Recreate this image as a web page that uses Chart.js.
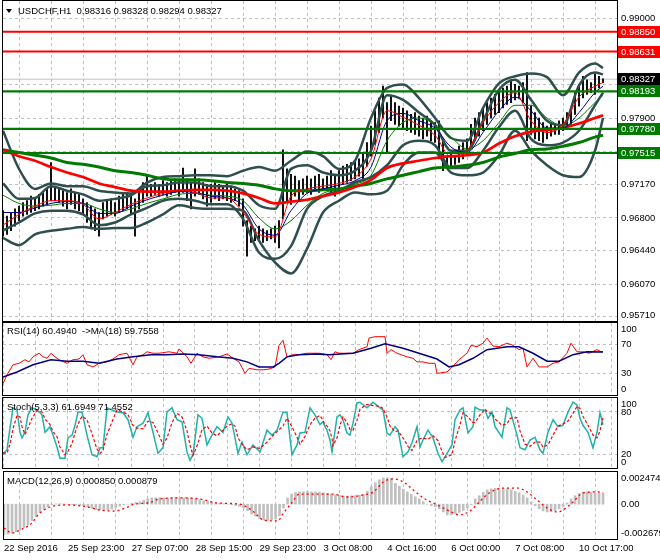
<!DOCTYPE html>
<html>
<head>
<meta charset="utf-8">
<script src="https://cdn.jsdelivr.net/npm/chart.js@4.4.1/dist/chart.umd.min.js"></script>
<style>
  body { margin: 0; background: #fff; }
  #wrap { position: relative; width: 660px; height: 560px; overflow: hidden; font-family: "Liberation Sans", Arial, sans-serif; }
  canvas { position: absolute; left: 0; }
  .cap { position: absolute; font-size: 9.5px; line-height: 11px; color: #000; white-space: pre; z-index: 2; }
  .tri { position: absolute; left: 6px; top: 9px; width: 0; height: 0; border-left: 3.5px solid transparent; border-right: 3.5px solid transparent; border-top: 4px solid #000; z-index: 2; }
</style>
</head>
<body>
<div id="wrap">
  <canvas id="main" width="660" height="322" style="top:0"></canvas>
  <canvas id="rsi" width="660" height="75" style="top:322px"></canvas>
  <canvas id="stoch" width="660" height="73" style="top:397px"></canvas>
  <canvas id="macd" width="660" height="89" style="top:471px"></canvas>
  <div class="tri"></div>
  <div class="cap" style="left:18px;top:5px">USDCHF,H1  0.98316 0.98328 0.98294 0.98327</div>
  <div class="cap" style="left:7px;top:325px">RSI(14) 60.4940  -&gt;MA(18) 59.7558</div>
  <div class="cap" style="left:7px;top:401px">Stoch(5,3,3) 61.6949 71.4552</div>
  <div class="cap" style="left:7px;top:475px">MACD(12,26,9) 0.000850 0.000879</div>
</div>
<script>
// time axis in H1 bars (0 = first bar on screen)
const xLabels = ['22 Sep 2016', '25 Sep 23:00', '27 Sep 07:00', '28 Sep 15:00', '29 Sep 23:00',
  '3 Oct 08:00', '4 Oct 16:00', '6 Oct 00:00', '7 Oct 08:00', '10 Oct 17:00'];
const labelEvery = 32;
const gridEvery = 16;
const lastBar = 307;

// price scale
const mainTicks = [0.99000, 0.98630, 0.98270, 0.97900, 0.97530, 0.97170, 0.96800, 0.96440, 0.96070, 0.95710];
const redLevels = [0.98850, 0.98631];
const greenLevels = [0.98193, 0.97780, 0.97515];
const bid = 0.98327;

// candles every 2nd bar: highs / lows
const candleHigh = [
  0.9688, 0.9682, 0.9686, 0.9690, 0.9693, 0.9697, 0.9699, 0.9704, 0.9701, 0.9706,
  0.9708, 0.9712, 0.9741, 0.9715, 0.9712, 0.9710, 0.9708, 0.9712, 0.9708, 0.9706,
  0.9701, 0.9697, 0.9693, 0.9690, 0.9686, 0.9697, 0.9699, 0.9701, 0.9697, 0.9704,
  0.9706, 0.9708, 0.9704, 0.9701, 0.9712, 0.9719, 0.9726, 0.9717, 0.9719, 0.9717,
  0.9721, 0.9719, 0.9721, 0.9723, 0.9721, 0.9735, 0.9723, 0.9719, 0.9734, 0.9723,
  0.9719, 0.9717, 0.9717, 0.9719, 0.9717, 0.9715, 0.9717, 0.9715, 0.9712, 0.9710,
  0.9701, 0.9677, 0.9671, 0.9668, 0.9671, 0.9668, 0.9666, 0.9668, 0.9671, 0.9677,
  0.9755, 0.9734, 0.9728, 0.9726, 0.9721, 0.9723, 0.9726, 0.9723, 0.9726, 0.9728,
  0.9723, 0.9726, 0.9732, 0.9728, 0.9732, 0.9737, 0.9739, 0.9741, 0.9743, 0.9745,
  0.9750, 0.9763, 0.9781, 0.9798, 0.9812, 0.9825, 0.9807, 0.9814, 0.9807, 0.9803,
  0.9801, 0.9798, 0.9794, 0.9796, 0.9792, 0.9790, 0.9792, 0.9787, 0.9785, 0.9787,
  0.9765, 0.9748, 0.9750, 0.9748, 0.9759, 0.9763, 0.9767, 0.9783, 0.9790, 0.9796,
  0.9801, 0.9807, 0.9812, 0.9816, 0.9821, 0.9823, 0.9825, 0.9832, 0.9827, 0.9825,
  0.9829, 0.9840, 0.9803, 0.9796, 0.9790, 0.9785, 0.9781, 0.9785, 0.9783, 0.9787,
  0.9790, 0.9796, 0.9801, 0.9818, 0.9827, 0.9836, 0.9832, 0.9829, 0.9838, 0.9836,
  0.9833];
const candleLow = [
  0.9660, 0.9662, 0.9666, 0.9671, 0.9677, 0.9682, 0.9684, 0.9686, 0.9688, 0.9690,
  0.9693, 0.9695, 0.9699, 0.9699, 0.9697, 0.9693, 0.9690, 0.9695, 0.9690, 0.9688,
  0.9684, 0.9675, 0.9668, 0.9666, 0.9660, 0.9679, 0.9682, 0.9684, 0.9682, 0.9686,
  0.9688, 0.9690, 0.9684, 0.9660, 0.9690, 0.9697, 0.9704, 0.9704, 0.9706, 0.9704,
  0.9706, 0.9704, 0.9706, 0.9708, 0.9704, 0.9708, 0.9699, 0.9690, 0.9704, 0.9706,
  0.9701, 0.9693, 0.9697, 0.9701, 0.9699, 0.9701, 0.9699, 0.9697, 0.9699, 0.9693,
  0.9671, 0.9638, 0.9653, 0.9655, 0.9657, 0.9653, 0.9655, 0.9657, 0.9653, 0.9647,
  0.9679, 0.9697, 0.9695, 0.9704, 0.9699, 0.9706, 0.9708, 0.9706, 0.9710, 0.9708,
  0.9710, 0.9712, 0.9708, 0.9704, 0.9712, 0.9717, 0.9719, 0.9721, 0.9723, 0.9726,
  0.9721, 0.9737, 0.9748, 0.9761, 0.9774, 0.9790, 0.9752, 0.9787, 0.9783, 0.9781,
  0.9779, 0.9776, 0.9774, 0.9772, 0.9770, 0.9767, 0.9770, 0.9765, 0.9763, 0.9745,
  0.9732, 0.9737, 0.9737, 0.9739, 0.9741, 0.9745, 0.9750, 0.9759, 0.9765, 0.9770,
  0.9776, 0.9783, 0.9790, 0.9794, 0.9796, 0.9801, 0.9805, 0.9807, 0.9810, 0.9812,
  0.9807, 0.9765, 0.9772, 0.9767, 0.9765, 0.9763, 0.9767, 0.9770, 0.9772, 0.9772,
  0.9776, 0.9779, 0.9783, 0.9794, 0.9803, 0.9812, 0.9816, 0.9818, 0.9816, 0.9823,
  0.9829];

// indicator lines sampled every 8 bars
const lineBars = [0, 8, 16, 24, 32, 40, 48, 56, 64, 72, 80, 88, 96, 104, 112, 120, 128, 136, 144, 152,
  160, 168, 176, 184, 192, 200, 208, 216, 224, 232, 240, 248, 256, 264, 272, 280, 288, 296, 300];
const maRedSlow = [0.9755, 0.9748, 0.9743, 0.9736, 0.9730, 0.9725, 0.9718, 0.9714, 0.9710, 0.9709,
  0.9709, 0.9710, 0.9711, 0.9711, 0.9710, 0.9707, 0.9702, 0.9696, 0.9698, 0.9700,
  0.9704, 0.9708, 0.9714, 0.9722, 0.9735, 0.9740, 0.9743, 0.9746, 0.9748, 0.9749,
  0.9752, 0.9762, 0.9770, 0.9775, 0.9777, 0.9779, 0.9784, 0.9790, 0.9793];
const maGreenSlow = [0.9755, 0.9752, 0.9749, 0.9746, 0.9741, 0.9739, 0.9736, 0.9732, 0.9730, 0.9727,
  0.9723, 0.9722, 0.9722, 0.9721, 0.9719, 0.9718, 0.9716, 0.9712, 0.9710, 0.9710,
  0.9711, 0.9712, 0.9715, 0.9718, 0.9723, 0.9727, 0.9731, 0.9735, 0.9736, 0.9738,
  0.9741, 0.9747, 0.9751, 0.9755, 0.9756, 0.9759, 0.9763, 0.9769, 0.9771];
const maRedFast = [0.9672, 0.9684, 0.9693, 0.9699, 0.9699, 0.9695, 0.9679, 0.9686, 0.9695, 0.9702,
  0.9707, 0.9710, 0.9708, 0.9702, 0.9702, 0.9686, 0.9662, 0.9659, 0.9704, 0.9712,
  0.9715, 0.9718, 0.9725, 0.9745, 0.9798, 0.9791, 0.9782, 0.9771, 0.9747, 0.9754,
  0.9785, 0.9807, 0.9818, 0.9787, 0.9774, 0.9783, 0.9813, 0.9825, 0.9829];
const maBlue = [0.9686, 0.9686, 0.9691, 0.9696, 0.9698, 0.9696, 0.9685, 0.9685, 0.9693, 0.9700,
  0.9705, 0.9709, 0.9708, 0.9704, 0.9702, 0.9694, 0.9668, 0.9661, 0.9688, 0.9707,
  0.9712, 0.9716, 0.9721, 0.9736, 0.9787, 0.9795, 0.9787, 0.9779, 0.9758, 0.9752,
  0.9774, 0.9798, 0.9813, 0.9798, 0.9779, 0.9779, 0.9796, 0.9818, 0.9825];
const maGreenFast = [0.9705, 0.9696, 0.9693, 0.9694, 0.9696, 0.9696, 0.9690, 0.9686, 0.9690, 0.9696,
  0.9701, 0.9706, 0.9707, 0.9705, 0.9704, 0.9699, 0.9680, 0.9668, 0.9677, 0.9694,
  0.9707, 0.9712, 0.9717, 0.9727, 0.9765, 0.9785, 0.9790, 0.9783, 0.9769, 0.9756,
  0.9765, 0.9785, 0.9804, 0.9804, 0.9790, 0.9781, 0.9790, 0.9807, 0.9815];
const bandOuterUp = [0.9776, 0.9734, 0.9712, 0.9718, 0.9715, 0.9715, 0.9710, 0.9708, 0.9707, 0.9719,
  0.9725, 0.9726, 0.9727, 0.9727, 0.9726, 0.9732, 0.9736, 0.9732, 0.9743, 0.9753,
  0.9748, 0.9734, 0.9743, 0.9790, 0.9823, 0.9827, 0.9812, 0.9790, 0.9768, 0.9765,
  0.9801, 0.9828, 0.9836, 0.9839, 0.9835, 0.9815, 0.9840, 0.9850, 0.9845];
const bandInnerUp = [0.9718, 0.9701, 0.9702, 0.9715, 0.9710, 0.9706, 0.9699, 0.9701, 0.9705, 0.9715,
  0.9716, 0.9719, 0.9719, 0.9715, 0.9715, 0.9710, 0.9694, 0.9690, 0.9734, 0.9738,
  0.9730, 0.9727, 0.9732, 0.9754, 0.9815, 0.9810, 0.9796, 0.9782, 0.9754, 0.9754,
  0.9787, 0.9821, 0.9832, 0.9810, 0.9787, 0.9782, 0.9826, 0.9840, 0.9838];
const bandInnerLow = [0.9666, 0.9675, 0.9685, 0.9688, 0.9688, 0.9684, 0.9672, 0.9675, 0.9684, 0.9691,
  0.9699, 0.9701, 0.9699, 0.9695, 0.9695, 0.9679, 0.9642, 0.9635, 0.9649, 0.9690,
  0.9704, 0.9710, 0.9719, 0.9725, 0.9738, 0.9760, 0.9765, 0.9760, 0.9735, 0.9735,
  0.9754, 0.9780, 0.9798, 0.9767, 0.9760, 0.9763, 0.9776, 0.9804, 0.9818];
const bandOuterLow = [0.9658, 0.9650, 0.9662, 0.9666, 0.9668, 0.9670, 0.9668, 0.9669, 0.9669, 0.9675,
  0.9684, 0.9694, 0.9691, 0.9690, 0.9690, 0.9688, 0.9655, 0.9631, 0.9619, 0.9646,
  0.9686, 0.9699, 0.9708, 0.9706, 0.9710, 0.9738, 0.9752, 0.9752, 0.9730, 0.9727,
  0.9730, 0.9749, 0.9776, 0.9754, 0.9738, 0.9727, 0.9725, 0.9754, 0.9790];

// RSI(14) and its MA(18)
const rsiBars = [0, 2, 5, 8, 11, 13, 15, 18, 20, 22, 24, 26, 28, 32, 35, 38, 40, 42, 45, 48,
  52, 55, 58, 62, 65, 67, 70, 72, 75, 78, 83, 87, 88, 92, 94, 97, 100, 103, 108, 112,
  115, 118, 121, 123, 127, 130, 133, 136, 138, 140, 142, 145, 148, 152, 155, 158, 162, 164, 166, 168,
  172, 175, 178, 182, 183, 186, 188, 191, 192, 194, 197, 202, 205, 207, 210, 213, 216, 217, 222, 224,
  228, 232, 234, 237, 240, 242, 245, 248, 252, 255, 258, 260, 262, 265, 268, 272, 275, 278, 282, 284,
  287, 290, 293, 297, 299, 300];
const rsiValues = [16, 28, 42, 44, 49, 46, 53, 58, 53, 51, 58, 53, 49, 44, 49, 50, 56, 42, 39, 44,
  46, 50, 56, 58, 42, 53, 56, 60, 58, 58, 60, 58, 64, 53, 44, 58, 53, 51, 53, 57,
  51, 46, 30, 37, 35, 35, 36, 39, 69, 76, 53, 56, 56, 58, 58, 58, 56, 49, 60, 58,
  58, 58, 63, 67, 79, 81, 81, 81, 58, 63, 58, 53, 51, 46, 46, 44, 44, 30, 32, 37,
  49, 58, 69, 67, 72, 79, 68, 67, 72, 69, 63, 65, 39, 51, 39, 39, 44, 46, 58, 72,
  60, 60, 58, 63, 60, 60.494];
const rsiMaBars = [0, 7, 15, 24, 32, 40, 48, 57, 65, 74, 82, 90, 98, 107, 115, 122, 128, 135, 138, 142,
  148, 157, 163, 175, 184, 191, 200, 208, 217, 223, 228, 235, 242, 252, 258, 265, 272, 278, 285, 292, 300];
const rsiMaValues = [25, 32, 42, 49, 47, 47, 44, 50, 53, 56, 56, 57, 56, 53, 51, 46, 39, 39, 44, 53,
  56, 57, 56, 58, 65, 71, 65, 58, 50, 39, 42, 51, 63, 67, 67, 58, 47, 47, 56, 60, 59.756];

// Stochastic(5,3,3)
const stochBars = [0, 2, 3.5, 5, 7, 8.5, 9.5, 11, 12.5, 14.5, 17, 19.5, 21, 23.5, 25, 27, 28.5, 31, 32.5, 34.5,
  36, 37.5, 39.5, 42, 44.5, 47, 48.5, 50, 52, 54.5, 57, 60, 62.5, 65, 67, 70, 72.5, 75, 77.5, 80,
  82, 84.5, 87, 89.5, 92, 93.5, 95, 97.5, 99.5, 102, 104.5, 107, 110, 112.5, 114.5, 116, 117.5, 119.5, 122, 125,
  128.5, 132, 134.5, 137, 140, 142, 144.5, 147, 148.5, 151, 153.5, 156, 158.5, 160, 161, 162, 163.5, 164.5, 165, 167,
  168.5, 170, 172, 173.5, 175, 177, 178.5, 182, 185, 188.5, 190, 192, 193.5, 196, 197.5, 200, 202.5, 204.5, 207, 208.5,
  210, 212.5, 215, 217.5, 219.5, 221, 224.5, 226, 228.5, 230, 232.5, 235, 236, 238.5, 241, 242.5, 244.5, 246, 249.5, 252,
  253.5, 257, 258.5, 261, 263.5, 266, 268.5, 270, 272.5, 275, 277.5, 280, 282.5, 285, 287, 288.5, 290, 292.5, 295, 297,
  298.5, 300];
const stochK = [19, 26, 57, 86, 83, 51, 43, 51, 76, 86, 83, 76, 51, 59, 47, 30, 14, 14, 43, 47,
  61, 80, 80, 47, 19, 16, 29, 29, 86, 83, 80, 79, 69, 44, 59, 64, 79, 51, 21, 29,
  80, 86, 69, 66, 23, 11, 19, 76, 71, 33, 47, 59, 51, 73, 64, 43, 21, 37, 19, 33,
  23, 54, 47, 54, 80, 79, 19, 33, 50, 51, 86, 76, 62, 66, 59, 54, 40, 23, 33, 73,
  76, 69, 50, 47, 64, 93, 94, 86, 94, 86, 83, 50, 47, 59, 54, 16, 23, 36, 59, 30,
  40, 54, 43, 21, 9, 16, 33, 69, 83, 86, 50, 59, 87, 83, 83, 71, 80, 59, 44, 86,
  83, 47, 29, 26, 40, 44, 26, 21, 51, 69, 59, 61, 80, 94, 90, 71, 61, 51, 29, 51,
  79, 61.69];
const stochD = [22, 21, 34, 56, 75, 73, 59, 48, 57, 71, 82, 80, 70, 62, 52, 45, 30, 19, 24, 35,
  50, 63, 74, 69, 49, 27, 21, 25, 48, 66, 83, 80, 76, 61, 57, 56, 67, 65, 50, 34,
  43, 65, 78, 73, 53, 33, 18, 35, 55, 60, 50, 46, 54, 61, 63, 60, 43, 34, 26, 30,
  28, 37, 45, 52, 60, 71, 59, 44, 34, 45, 62, 71, 75, 68, 62, 60, 53, 42, 32, 43,
  61, 73, 65, 55, 54, 68, 84, 91, 89, 88, 85, 73, 60, 52, 53, 43, 31, 25, 39, 42,
  43, 41, 46, 39, 24, 15, 19, 39, 62, 79, 73, 65, 65, 76, 84, 79, 78, 70, 61, 63,
  71, 72, 53, 34, 31, 37, 37, 30, 33, 47, 60, 63, 67, 78, 88, 85, 74, 61, 47, 43,
  53, 71.46];

// MACD(12,26,9): histogram every 2nd bar, signal line
const macdHist = [
  -0.00237, -0.00230, -0.00222, -0.00212, -0.00200, -0.00182, -0.00160, -0.00125, -0.00095, -0.00065,
  -0.00040, -0.00022, -0.00005, 0.00002, 0.00003, 0.00002, 0.00000, -0.00003, -0.00006, -0.00010,
  -0.00014, -0.00022, -0.00032, -0.00042, -0.00046, -0.00046, -0.00045, -0.00038, -0.00026, -0.00015,
  -0.00006, 0.00000, 0.00006, 0.00012, 0.00017, 0.00030, 0.00042, 0.00048, 0.00050, 0.00050,
  0.00049, 0.00048, 0.00050, 0.00052, 0.00050, 0.00049, 0.00048, 0.00045, 0.00040, 0.00033,
  0.00027, 0.00020, 0.00015, 0.00010, 0.00007, 0.00004, 0.00001, -0.00004, -0.00010, -0.00018,
  -0.00029, -0.00050, -0.00075, -0.00093, -0.00110, -0.00122, -0.00125, -0.00123, -0.00115, -0.00090,
  -0.00030, 0.00048, 0.00078, 0.00090, 0.00094, 0.00095, 0.00096, 0.00095, 0.00094, 0.00092,
  0.00088, 0.00082, 0.00077, 0.00072, 0.00068, 0.00064, 0.00063, 0.00064, 0.00066, 0.00069,
  0.00075, 0.00100, 0.00135, 0.00165, 0.00188, 0.00201, 0.00203, 0.00198, 0.00160, 0.00138,
  0.00115, 0.00094, 0.00075, 0.00057, 0.00040, 0.00020, 0.00000, -0.00012, -0.00020, -0.00035,
  -0.00060, -0.00083, -0.00082, -0.00072, -0.00064, -0.00048, -0.00029, -0.00005, 0.00040, 0.00065,
  0.00090, 0.00109, 0.00118, 0.00123, 0.00124, 0.00120, 0.00117, 0.00110, 0.00098, 0.00088,
  0.00070, 0.00048, 0.00018, -0.00012, -0.00035, -0.00052, -0.00060, -0.00058, -0.00050, -0.00035,
  -0.00018, 0.00009, 0.00040, 0.00065, 0.00082, 0.00094, 0.00095, 0.00092, 0.00088, 0.00086,
  0.00085];
const signalBars = [0, 4, 8, 14, 17, 20, 25, 32, 42, 48, 55, 62, 65, 72, 78, 88, 98, 107, 118, 124,
  130, 137, 140, 144, 148, 157, 164, 172, 180, 185, 190, 195, 200, 205, 210, 217, 224, 228, 234, 238,
  243, 250, 257, 262, 267, 272, 277, 280, 285, 290, 297, 300];
const signalValues = [-0.00183, -0.00222, -0.00199, -0.00145, -0.00083, -0.00045, -0.00014, -0.00006, -0.00022, -0.00045,
  -0.00053, -0.00022, 0.00000, 0.00009, 0.00040, 0.00048, 0.00040, 0.00009, 0.00000, -0.00045,
  -0.00122, -0.00129, -0.00068, 0.00009, 0.00078, 0.00078, 0.00078, 0.00055, 0.00071, 0.00094,
  0.00171, 0.00194, 0.00171, 0.00109, 0.00048, -0.00006, -0.00060, -0.00083, -0.00045, 0.00017,
  0.00086, 0.00124, 0.00124, 0.00094, 0.00032, -0.00029, -0.00060, -0.00045, 0.00017, 0.00086,
  0.00094, 0.00088];
const macdMax = 0.002474;
const macdMin = -0.002679;

const FONT = '"Liberation Sans", Arial, sans-serif';
Chart.defaults.font.family = FONT;
Chart.defaults.font.size = 9.5;
Chart.defaults.color = '#000';

const everyOther = Array.from({ length: candleHigh.length }, (_, k) => k * 2);
const gridBars = Array.from({ length: Math.floor(lastBar / gridEvery) + 1 }, (_, k) => k * gridEvery);
const pts = (bars, vals) => bars.map((b, k) => ({ x: b, y: vals[k] }));
const hline = v => [{ x: 0, y: v }, { x: lastBar, y: v }];

function line(data, color, width, extra) {
  return Object.assign({ type: 'line', data, borderColor: color, borderWidth: width,
    pointRadius: 0, fill: false, tension: 0 }, extra || {});
}

// right axis labels, level boxes and panel frame
const frame = {
  id: 'frame',
  afterDraw(chart, args, o) {
    const { ctx, chartArea: a } = chart;
    const y = chart.scales.y;
    const boxes = o.boxes || [];
    ctx.save();
    ctx.font = '9.5px ' + FONT;
    ctx.textBaseline = 'middle';
    ctx.fillStyle = '#000';
    (o.labels || []).forEach(l => {
      let py = y.getPixelForValue(l.v);
      if (boxes.some(b => Math.abs(y.getPixelForValue(b.v) - py) < 10)) return;
      py = Math.min(Math.max(py, a.top + 6), a.bottom - 6);
      ctx.fillText(l.t, a.right + 4, py);
    });
    boxes.forEach(b => {
      const py = Math.round(y.getPixelForValue(b.v));
      ctx.fillStyle = b.bg;
      ctx.fillRect(a.right + 1, py - 6, 43, 12);
      ctx.fillStyle = '#fff';
      ctx.fillText(b.t, a.right + 4, py + 0.5);
    });
    ctx.strokeStyle = '#000';
    ctx.lineWidth = 1;
    ctx.strokeRect(a.left - 0.5, a.top - 0.5, a.width + 1, a.height + 1);
    ctx.restore();
  }
};

function xAxis(showLabels) {
  return {
    type: 'linear', min: 0, max: lastBar, offset: false,
    afterBuildTicks: s => { s.ticks = gridBars.map(v => ({ value: v })); },
    afterFit: s => { s.height = showLabels ? 21 : 0; },
    ticks: {
      display: showLabels, autoSkip: false, maxRotation: 0, minRotation: 0, align: 'start', padding: 4,
      callback: v => (v % labelEvery === 0 ? xLabels[v / labelEvery] || '' : '')
    },
    grid: { color: '#c0c0c0', drawTicks: false },
    border: { display: false, dash: [3, 3] }
  };
}

function panel(id, datasets, yMin, yMax, yGrid, o) {
  return new Chart(document.getElementById(id), {
    type: 'line',
    data: { datasets },
    options: {
      responsive: false, animation: false, events: [],
      layout: { padding: { left: 3, right: 0, top: 1, bottom: o.bottom } },
      plugins: { legend: { display: false }, tooltip: { enabled: false },
        frame: { labels: o.labels, boxes: o.boxes } },
      scales: {
        x: xAxis(!!o.showX),
        y: {
          type: 'linear', position: 'right', min: yMin, max: yMax,
          afterBuildTicks: s => { s.ticks = yGrid.map(v => ({ value: v })); },
          afterFit: s => { s.width = 43; },
          ticks: { display: false },
          grid: { color: '#c0c0c0', drawTicks: false, display: yGrid.length > 0 },
          border: { display: false, dash: [3, 3] }
        }
      }
    },
    plugins: [frame]
  });
}

const smooth = { cubicInterpolationMode: 'monotone' };
const candles = everyOther.map((b, k) => ({ x: b, y: [candleLow[k], candleHigh[k]] }));

panel('main', [
  line(hline(bid), '#c0c0c0', 1, { order: 30 }),
  { type: 'bar', data: candles, backgroundColor: '#000', borderWidth: 0, barThickness: 1.2, order: 20 },
  line(pts(lineBars, bandOuterUp), '#2f4f4f', 2.5, Object.assign({ order: 15 }, smooth)),
  line(pts(lineBars, bandOuterLow), '#2f4f4f', 2.5, Object.assign({ order: 15 }, smooth)),
  line(pts(lineBars, bandInnerUp), '#2f4f4f', 2.5, Object.assign({ order: 15 }, smooth)),
  line(pts(lineBars, bandInnerLow), '#2f4f4f', 2.5, Object.assign({ order: 15 }, smooth)),
  line(pts(lineBars, maGreenSlow), '#007a00', 3, Object.assign({ order: 12 }, smooth)),
  line(pts(lineBars, maRedSlow), '#ff0000', 2.7, Object.assign({ order: 11 }, smooth)),
  line(pts(lineBars, maGreenFast), '#008000', 1, Object.assign({ order: 9 }, smooth)),
  line(pts(lineBars, maBlue), '#000090', 1, Object.assign({ order: 8 }, smooth)),
  line(pts(lineBars, maRedFast), '#ff0000', 1, Object.assign({ order: 7 }, smooth)),
  ...redLevels.map(v => line(hline(v), '#ff0000', 2, { order: 5 })),
  ...greenLevels.map(v => line(hline(v), '#007a00', 2.2, { order: 5 }))
], 0.956659, 0.991877, mainTicks, {
  bottom: 1,
  labels: mainTicks.map(v => ({ v, t: v.toFixed(5) })),
  boxes: [
    ...redLevels.map(v => ({ v, t: v.toFixed(5), bg: '#ff0000' })),
    { v: bid, t: bid.toFixed(5), bg: '#000' },
    ...greenLevels.map(v => ({ v, t: v.toFixed(5), bg: '#007a00' }))
  ]
});

panel('rsi', [
  line(pts(rsiMaBars, rsiMaValues), '#000080', 1.5, { order: 1 }),
  line(pts(rsiBars, rsiValues), '#ff0000', 1, { order: 2 })
], 0, 100, [70, 30], {
  bottom: 2,
  labels: [100, 70, 30, 0].map(v => ({ v, t: String(v) }))
});

panel('stoch', [
  line(pts(stochBars, stochD), '#ff0000', 1.2, { order: 1, borderDash: [3, 2] }),
  line(pts(stochBars, stochK), '#20b2aa', 1.5, { order: 2 })
], 0, 100, [80, 20], {
  bottom: 2,
  labels: [100, 80, 20, 0].map(v => ({ v, t: String(v) }))
});

panel('macd', [
  line(pts(signalBars, signalValues), '#ff0000', 1.3, Object.assign({ order: 1, borderDash: [2, 3] }, smooth)),
  { type: 'bar', data: pts(everyOther, macdHist), backgroundColor: '#c0c0c0', borderWidth: 0, barThickness: 2, order: 2 }
], macdMin, macdMax, [], {
  bottom: 0, showX: true,
  labels: [{ v: macdMax, t: '0.002474' }, { v: 0, t: '0.00' }, { v: macdMin, t: '-0.002679' }]
});
</script>
</body>
</html>
